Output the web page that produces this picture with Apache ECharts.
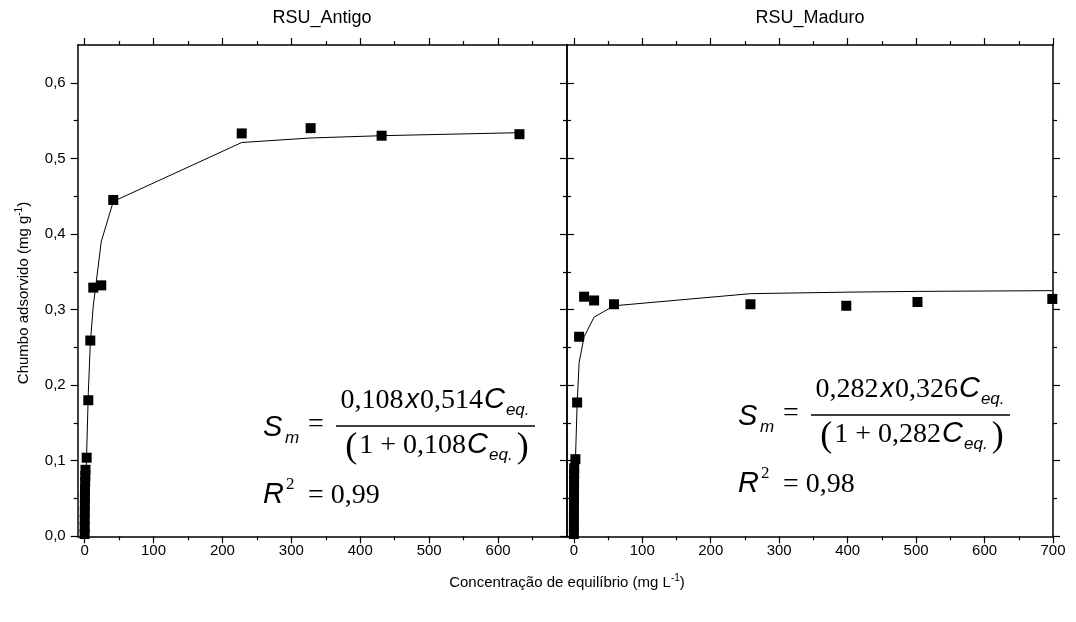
<!DOCTYPE html>
<html><head><meta charset="utf-8">
<script src="https://cdn.jsdelivr.net/npm/echarts@6/dist/echarts.min.js"></script>
<style>html,body{margin:0;padding:0;background:#fff}#c{width:1076px;height:622px}</style>
</head><body><div id="c"></div>
<script>
// ---------- data ----------
const panelTitles = ['RSU_Antigo', 'RSU_Maduro'];
const xMajorLeft = [0, 100, 200, 300, 400, 500, 600];
const xMajorRight = [0, 100, 200, 300, 400, 500, 600, 700];
const xMinor = [50, 150, 250, 350, 450, 550, 650];
const yMajor = [0, 0.1, 0.2, 0.3, 0.4, 0.5, 0.6];
const yMinor = [0.05, 0.15, 0.25, 0.35, 0.45, 0.55];

const antigoX = [0.1, 0.15, 0.2, 0.3, 0.4, 0.5, 0.6, 0.8, 1.0, 1.3, 3.0, 5.4, 8.3, 12.6, 24.2, 41.6, 228, 328, 431, 631];
const antigoY = [0.003, 0.012, 0.022, 0.032, 0.042, 0.052, 0.062, 0.072, 0.080, 0.088, 0.104, 0.180, 0.259, 0.329, 0.332, 0.445, 0.533, 0.540, 0.530, 0.532];
const antigoFitX = [0, 1.0, 3.0, 5.4, 8.3, 12.6, 24.2, 41.6, 228, 328, 431, 631];
const antigoFitY = [0, 0.05, 0.11, 0.19, 0.255, 0.305, 0.390, 0.443, 0.521, 0.527, 0.530, 0.534];

const maduroX = [0.05, 0.1, 0.1, 0.15, 0.2, 0.2, 0.3, 0.3, 0.4, 0.5, 2.3, 4.8, 7.7, 15, 29.6, 58.7, 258, 398, 502, 699];
const maduroY = [0.003, 0.013, 0.023, 0.033, 0.043, 0.053, 0.063, 0.073, 0.082, 0.090, 0.102, 0.177, 0.264, 0.317, 0.312, 0.307, 0.307, 0.305, 0.310, 0.314];
const maduroFitX = [0, 0.5, 2.3, 4.8, 7.7, 15, 29.6, 58.7, 258, 398, 502, 699];
const maduroFitY = [0, 0.04, 0.10, 0.175, 0.23, 0.264, 0.290, 0.305, 0.321, 0.323, 0.324, 0.325];

const fitK = ['0,108', '0,282'];
const fitQ = ['0,514', '0,326'];
const fitR2 = ['0,99', '0,98'];

// ---------- helpers ----------
const SANS = '"Liberation Sans", Arial, sans-serif';
const SERIF = '"Liberation Serif", "Times New Roman", serif';
const mctx = document.createElement('canvas').getContext('2d');
function fontStr(p) { return (p.i ? 'italic ' : '') + p.s + 'px ' + (p.serif ? SERIF : SANS); }
function meas(p) { mctx.font = fontStr(p); return mctx.measureText(p.t).width; }
function txt(p, x, baseline) {
  return {
    type: 'text', x: x, y: baseline - 0.34 * p.s, silent: true,
    style: {
      text: p.t, fontSize: p.s, fontStyle: p.i ? 'italic' : 'normal',
      fontFamily: p.serif ? SERIF : SANS, fill: '#000', align: 'left', verticalAlign: 'middle'
    }
  };
}
function row(pieces, x0, baseline, centered) {
  const ws = pieces.map(p => meas(p) + (p.g || 0));
  const total = ws.reduce((a, b) => a + b, 0);
  let x = centered ? x0 - total / 2 : x0;
  const out = [];
  pieces.forEach((p, i) => {
    out.push(txt(p, x + (p.g || 0), baseline + (p.dy || 0)));
    x += ws[i];
  });
  return out;
}
function formula(i, sx, base) {
  const els = [];
  els.push(...row([{ t: 'S', s: 29, i: 1 }], sx, base));
  els.push(...row([{ t: 'm', s: 17, i: 1 }], sx + 22, base + 6));
  els.push(...row([{ t: '=', s: 28, serif: 1 }], sx + 45, base - 4));
  els.push(...row([
    { t: fitK[i], s: 28, serif: 1 },
    { t: 'x', s: 27, i: 1, g: 2 },
    { t: fitQ[i], s: 28, serif: 1, g: 1 },
    { t: 'C', s: 29, i: 1, g: 1 },
    { t: 'eq.', s: 17, i: 1, dy: 6, g: 1 }
  ], sx + 172, base - 28, true));
  els.push({
    type: 'line', silent: true,
    shape: { x1: sx + 73, y1: base - 12, x2: sx + 272, y2: base - 12 },
    style: { stroke: '#000', lineWidth: 1.3 }
  });
  els.push(...row([
    { t: '(', s: 36, serif: 1, dy: 5 },
    { t: '1', s: 28, serif: 1, g: 2 },
    { t: '+', s: 28, serif: 1, g: 7 },
    { t: fitK[i], s: 28, serif: 1, g: 7 },
    { t: 'C', s: 29, i: 1, g: 1 },
    { t: 'eq.', s: 17, i: 1, dy: 6, g: 1 },
    { t: ')', s: 36, serif: 1, dy: 5, g: 4 }
  ], sx + 174, base + 17, true));
  els.push(...row([{ t: 'R', s: 29, i: 1 }], sx, base + 67));
  els.push(...row([{ t: '2', s: 17, serif: 1 }], sx + 23, base + 52));
  els.push(...row([{ t: '=', s: 28, serif: 1 }, { t: fitR2[i], s: 28, serif: 1, g: 7 }], sx + 45, base + 67));
  return els;
}

// ---------- axes ----------
const AX = { color: '#000', width: 1.5 };
const TK = { color: '#000', width: 1.2 };
const LBL = 15;
function xAxes(g, major, labels) {
  const base = { gridIndex: g, type: 'value', min: -10, max: 700, splitLine: { show: false } };
  return [
    Object.assign({}, base, {
      position: 'bottom',
      axisLine: { show: true, onZero: false, lineStyle: AX },
      axisTick: { show: true, inside: false, length: 7, customValues: major, lineStyle: TK },
      axisLabel: { show: true, customValues: labels, margin: 7, fontSize: LBL, color: '#000', fontFamily: SANS, formatter: v => String(v) }
    }),
    Object.assign({}, base, {
      position: 'bottom',
      axisLine: { show: false, onZero: false },
      axisTick: { show: true, inside: false, length: 4, customValues: xMinor, lineStyle: TK },
      axisLabel: { show: false }
    }),
    Object.assign({}, base, {
      position: 'top',
      axisLine: { show: true, onZero: false, lineStyle: AX },
      axisTick: { show: true, inside: false, length: 7, customValues: major, lineStyle: TK },
      axisLabel: { show: false }
    }),
    Object.assign({}, base, {
      position: 'top',
      axisLine: { show: false, onZero: false },
      axisTick: { show: true, inside: false, length: 4, customValues: xMinor, lineStyle: TK },
      axisLabel: { show: false }
    })
  ];
}
function yAxes(g, showLabels) {
  const base = { gridIndex: g, type: 'value', min: 0, max: 0.65, splitLine: { show: false } };
  return [
    Object.assign({}, base, {
      position: 'left',
      axisLine: { show: true, onZero: false, lineStyle: AX },
      axisTick: { show: true, inside: false, length: 7, customValues: yMajor, lineStyle: TK },
      axisLabel: { show: showLabels, customValues: yMajor, margin: 12, fontSize: LBL, color: '#000', fontFamily: SANS,
        formatter: v => v.toFixed(1).replace('.', ',') }
    }),
    Object.assign({}, base, {
      position: 'left',
      axisLine: { show: false, onZero: false },
      axisTick: { show: true, inside: false, length: 4, customValues: yMinor, lineStyle: TK },
      axisLabel: { show: false }
    }),
    Object.assign({}, base, {
      position: 'right',
      axisLine: { show: true, onZero: false, lineStyle: AX },
      axisTick: { show: true, inside: false, length: 7, customValues: yMajor, lineStyle: TK },
      axisLabel: { show: false }
    }),
    Object.assign({}, base, {
      position: 'right',
      axisLine: { show: false, onZero: false },
      axisTick: { show: true, inside: false, length: 4, customValues: yMinor, lineStyle: TK },
      axisLabel: { show: false }
    })
  ];
}
function zip(a, b) { return a.map((v, i) => [v, b[i]]); }
function panelSeries(g, px, py, fx, fy) {
  return [
    {
      type: 'line', xAxisIndex: g * 4, yAxisIndex: g * 4, data: zip(fx, fy),
      showSymbol: false, symbol: 'none', smooth: false, lineStyle: { color: '#000', width: 1 }, z: 2
    },
    {
      type: 'scatter', xAxisIndex: g * 4, yAxisIndex: g * 4, data: zip(px, py),
      symbol: 'rect', symbolSize: 10, itemStyle: { color: '#000', opacity: 1 }, z: 3, clip: false
    }
  ];
}

const richName = {
  a: { fontSize: 15, fontFamily: SANS, fill: '#000', lineHeight: 19 },
  s: { fontSize: 10, fontFamily: SANS, fill: '#000', lineHeight: 10, verticalAlign: 'top' }
};
const graphics = [
  { type: 'text', x: 322, y: 18, silent: true, style: { text: panelTitles[0], fontSize: 18, fontFamily: SANS, fill: '#000', align: 'center', verticalAlign: 'middle' } },
  { type: 'text', x: 810, y: 18, silent: true, style: { text: panelTitles[1], fontSize: 18, fontFamily: SANS, fill: '#000', align: 'center', verticalAlign: 'middle' } },
  { type: 'text', x: 24, y: 293, rotation: Math.PI / 2, silent: true,
    style: { text: '{a|Chumbo adsorvido (mg g}{s|-1}{a|)}', align: 'center', verticalAlign: 'middle', rich: richName } },
  { type: 'text', x: 567, y: 583, silent: true,
    style: { text: '{a|Concentração de equilíbrio (mg L}{s|-1}{a|)}', align: 'center', verticalAlign: 'middle', rich: richName } }
].concat(formula(0, 263, 438), formula(1, 738, 427));

const chart = echarts.init(document.getElementById('c'), null, { renderer: 'canvas' });
chart.setOption({
  animation: false,
  backgroundColor: '#fff',
  grid: [
    { left: 77.7, right: 1076 - 567, top: 45, bottom: 622 - 536.3 },
    { left: 567, right: 1076 - 1053, top: 45, bottom: 622 - 536.3 }
  ],
  xAxis: xAxes(0, xMajorLeft, xMajorLeft).concat(xAxes(1, xMajorRight, xMajorRight)),
  yAxis: yAxes(0, true).concat(yAxes(1, false)),
  series: panelSeries(0, antigoX, antigoY, antigoFitX, antigoFitY)
    .concat(panelSeries(1, maduroX, maduroY, maduroFitX, maduroFitY)),
  graphic: graphics
});
</script>
</body></html>
